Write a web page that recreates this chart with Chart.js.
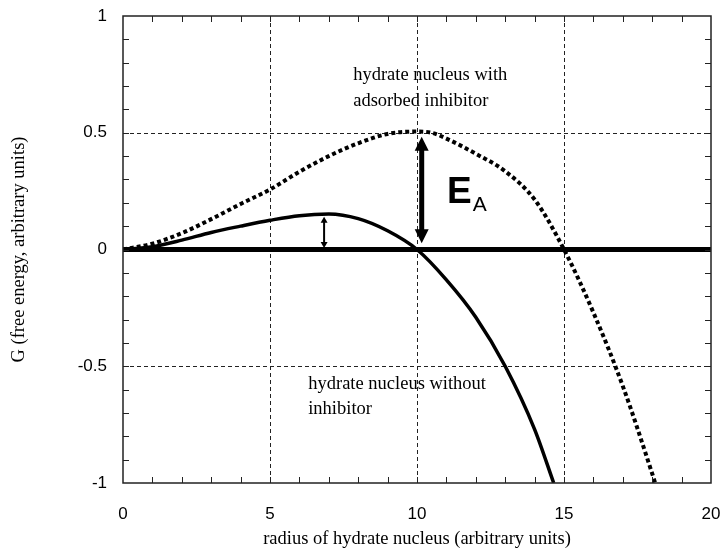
<!DOCTYPE html>
<html>
<head>
<meta charset="utf-8">
<script src="https://cdn.jsdelivr.net/npm/chart.js@4/dist/chart.umd.min.js"></script>
<style>
  html, body { margin: 0; padding: 0; background: #fff; }
  #wrap { width: 721px; height: 550px; position: relative; }
</style>
</head>
<body>
<div id="wrap"><canvas id="c" width="721" height="550"></canvas></div>
<script>
// ---- data ----
const rWithout = [0, 1, 2, 3, 4, 5, 6, 7, 8, 9, 10, 11, 12, 13, 14, 14.65];
const gWithout = [0, 0.012, 0.04, 0.073, 0.1, 0.125, 0.145, 0.152, 0.132, 0.08, 0, -0.13, -0.29, -0.5, -0.77, -1.0];

const rWith = [0, 1, 2, 3, 4, 5, 6, 7, 8, 9, 10, 10.5, 11, 12, 13, 14, 15, 16, 17, 18, 18.1];
const gWith = [0, 0.025, 0.07, 0.13, 0.195, 0.257, 0.333, 0.4, 0.455, 0.495, 0.505, 0.5, 0.475, 0.41, 0.335, 0.214, 0, -0.27, -0.585, -0.96, -1.0];

const rBaseline = [0, 20];
const gBaseline = [0, 0];

const xTickLabels = [0, 5, 10, 15, 20];
const yTickLabels = [1, 0.5, 0, -0.5, -1];
const xGridValues = [5, 10, 15];
const yGridValues = [0.5, -0.5];
const xMinorTicks = [1,2,3,4,5,6,7,8,9,10,11,12,13,14,15,16,17,18,19];
const yMinorTicks = [-0.9,-0.8,-0.7,-0.6,-0.5,-0.4,-0.3,-0.2,-0.1,0,0.1,0.2,0.3,0.4,0.5,0.6,0.7,0.8,0.9];

// arrows (data units): x, from, to
const arrowX    = [6.84, 10.16];
const arrowFrom = [0.006, 0.027];
const arrowTo   = [0.14, 0.483];

const xTitle = 'radius of hydrate nucleus (arbitrary units)';
const yTitle = 'G (free energy, arbitrary units)';
const labelWith = ['hydrate nucleus with', 'adsorbed inhibitor'];
const labelWithout = ['hydrate nucleus without', 'inhibitor'];

const toXY = (xs, ys) => xs.map((x, i) => ({x: x, y: ys[i]}));

const serif = '"Liberation Serif", "Times New Roman", serif';
const sans = '"Liberation Sans", Arial, sans-serif';

const decorPlugin = {
  id: 'decor',
  beforeDatasetsDraw(chart) {
    const {ctx, chartArea: a, scales: {x, y}} = chart;
    ctx.save();
    ctx.strokeStyle = '#222';
    ctx.lineWidth = 1;
    ctx.setLineDash([4, 3]);
    xGridValues.forEach(v => {
      const px = Math.round(x.getPixelForValue(v)) + 0.5;
      ctx.beginPath(); ctx.moveTo(px, a.top); ctx.lineTo(px, a.bottom); ctx.stroke();
    });
    yGridValues.forEach(v => {
      const py = Math.round(y.getPixelForValue(v)) + 0.5;
      ctx.beginPath(); ctx.moveTo(a.left, py); ctx.lineTo(a.right, py); ctx.stroke();
    });
    ctx.restore();
  },
  afterDatasetsDraw(chart) {
    const {ctx, chartArea: a, scales: {x, y}} = chart;
    ctx.save();
    ctx.strokeStyle = '#222';
    ctx.lineWidth = 1.5;
    ctx.strokeRect(a.left, a.top, a.right - a.left, a.bottom - a.top);
    ctx.lineWidth = 1;
    const tl = 6;
    xMinorTicks.forEach(v => {
      const px = Math.round(x.getPixelForValue(v)) + 0.5;
      ctx.beginPath();
      ctx.moveTo(px, a.bottom); ctx.lineTo(px, a.bottom - tl);
      ctx.moveTo(px, a.top); ctx.lineTo(px, a.top + tl);
      ctx.stroke();
    });
    yMinorTicks.forEach(v => {
      const py = Math.round(y.getPixelForValue(v)) + 0.5;
      ctx.beginPath();
      ctx.moveTo(a.left, py); ctx.lineTo(a.left + tl, py);
      ctx.moveTo(a.right, py); ctx.lineTo(a.right - tl, py);
      ctx.stroke();
    });
    ctx.fillStyle = '#000';
    ctx.strokeStyle = '#000';
    const heads = [{w: 7, l: 6, lw: 2}, {w: 14, l: 14, lw: 5}];
    arrowX.forEach((xv, i) => {
      const px = x.getPixelForValue(xv);
      const p1 = y.getPixelForValue(arrowFrom[i]);
      const p2 = y.getPixelForValue(arrowTo[i]);
      const h = heads[i];
      ctx.lineWidth = h.lw;
      ctx.beginPath(); ctx.moveTo(px, p1 - h.l + 1); ctx.lineTo(px, p2 + h.l - 1); ctx.stroke();
      ctx.beginPath();
      ctx.moveTo(px, p2); ctx.lineTo(px - h.w / 2, p2 + h.l); ctx.lineTo(px + h.w / 2, p2 + h.l); ctx.closePath();
      ctx.fill();
      ctx.beginPath();
      ctx.moveTo(px, p1); ctx.lineTo(px - h.w / 2, p1 - h.l); ctx.lineTo(px + h.w / 2, p1 - h.l); ctx.closePath();
      ctx.fill();
    });
    ctx.fillStyle = '#000';
    ctx.textBaseline = 'alphabetic';
    ctx.textAlign = 'left';
    ctx.font = '18.5px ' + serif;
    let lx = x.getPixelForValue(7.83), ly = y.getPixelForValue(0.728);
    labelWith.forEach((t, i) => ctx.fillText(t, lx, ly + i * 26));
    lx = x.getPixelForValue(6.3); ly = y.getPixelForValue(-0.597);
    labelWithout.forEach((t, i) => ctx.fillText(t, lx, ly + i * 25));
    const ex = x.getPixelForValue(11.02), ey = y.getPixelForValue(0.2);
    ctx.font = 'bold 37px ' + sans;
    ctx.fillText('E', ex, ey);
    const ew = ctx.measureText('E').width;
    ctx.font = '21px ' + sans;
    ctx.fillText('A', ex + ew + 1, ey + 8);
    ctx.restore();
  }
};

new Chart(document.getElementById('c'), {
  type: 'scatter',
  data: {
    datasets: [
      {
        label: 'baseline',
        data: toXY(rBaseline, gBaseline),
        showLine: true, borderColor: '#000', borderWidth: 5,
        pointRadius: 0, fill: false, order: 3
      },
      {
        label: 'hydrate nucleus with adsorbed inhibitor',
        data: toXY(rWith, gWith),
        showLine: true, borderColor: '#000', borderWidth: 4,
        borderDash: [4, 3], borderCapStyle: 'butt',
        cubicInterpolationMode: 'monotone',
        pointRadius: 0, fill: false, order: 2
      },
      {
        label: 'hydrate nucleus without inhibitor',
        data: toXY(rWithout, gWithout),
        showLine: true, borderColor: '#000', borderWidth: 3.5,
        cubicInterpolationMode: 'monotone',
        pointRadius: 0, fill: false, order: 1
      }
    ]
  },
  options: {
    responsive: false,
    animation: false,
    events: [],
    layout: { padding: { top: 16, right: 10, left: 0, bottom: 0 } },
    plugins: { legend: { display: false }, tooltip: { enabled: false } },
    scales: {
      x: {
        type: 'linear', min: 0, max: 20,
        grid: { display: false, drawTicks: false },
        border: { display: false },
        afterBuildTicks: s => { s.ticks = xTickLabels.map(v => ({value: v})); },
        ticks: { color: '#000', padding: 21, maxRotation: 0, font: { family: sans, size: 17 },
                 callback: v => String(v) },
        title: { display: true, text: xTitle, color: '#000', padding: { top: 0, bottom: 0 }, font: { family: serif, size: 18.5 } },
        afterFit: s => { s.height = 67; s.paddingLeft = 0; s.paddingRight = 0; }
      },
      y: {
        type: 'linear', min: -1, max: 1,
        grid: { display: false, drawTicks: false },
        border: { display: false },
        afterBuildTicks: s => { s.ticks = yTickLabels.map(v => ({value: v})); },
        ticks: { color: '#000', padding: 16, font: { family: sans, size: 17 },
                 callback: v => String(v) },
        title: { display: true, text: yTitle, color: '#000', padding: { top: 8, bottom: 0 }, font: { family: serif, size: 18.5 } },
        afterFit: s => { s.width = 123; s.paddingTop = 0; s.paddingBottom = 0; }
      }
    }
  },
  plugins: [decorPlugin]
});
</script>
</body>
</html>
